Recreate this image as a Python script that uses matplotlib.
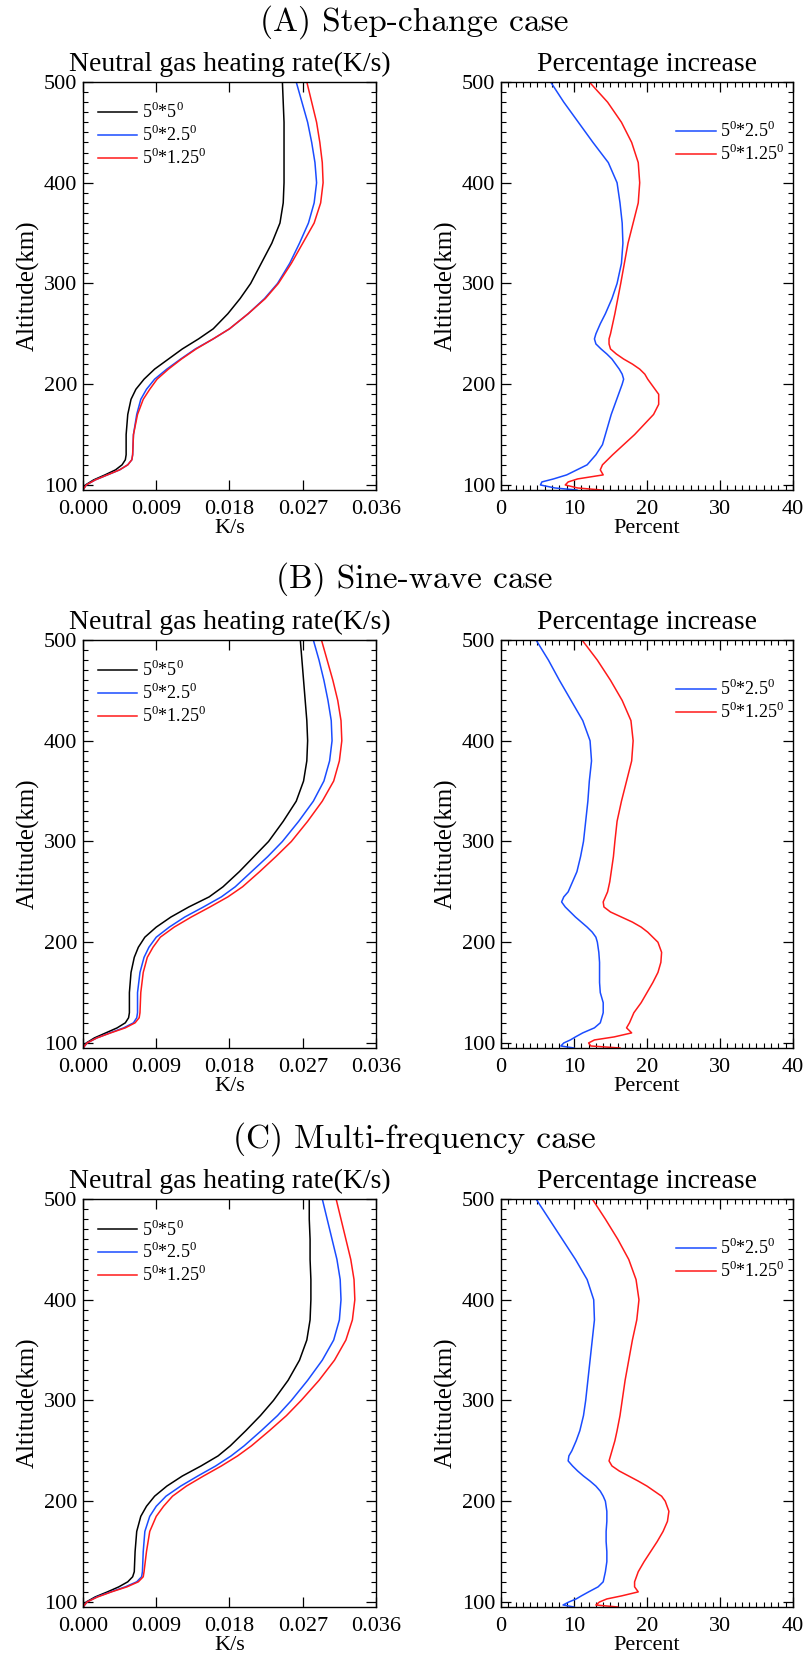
import numpy as np
import matplotlib
matplotlib.use("Agg")
import matplotlib.pyplot as plt
from matplotlib.ticker import MultipleLocator, FixedLocator

plt.rcParams['font.family'] = ['Liberation Serif', 'DejaVu Serif']
plt.rcParams['mathtext.fontset'] = 'custom'
plt.rcParams['mathtext.rm'] = 'Liberation Serif'

# altitude grids (km)
alt_L = [95, 100, 105, 110, 115, 120, 125, 130, 150, 170, 185, 195, 205, 215, 225,
         235, 245, 255, 270, 285, 300, 320, 340, 360, 380, 400, 420, 440, 460, 480, 500]
alt_R = [95, 97, 100, 103, 106, 110, 115, 120, 130, 140, 150, 160, 170, 180, 190, 200,
         205, 210, 215, 220, 225, 230, 235, 240, 245, 250, 260, 270, 285, 300, 320, 340,
         360, 380, 400, 420, 440, 460, 480, 500]

# neutral gas heating rate (K/s)
heat_A_5 = [0.0, 0.0003, 0.0013, 0.0027, 0.0040, 0.0048, 0.0052, 0.0053, 0.0053, 0.0055, 0.0059,
            0.0065, 0.0075, 0.0088, 0.0105, 0.0122, 0.0142, 0.0160, 0.0178, 0.0193, 0.0206,
            0.0219, 0.0232, 0.0242, 0.0246, 0.0247, 0.0247, 0.0247, 0.0247, 0.0246, 0.0245]
heat_A_25 = [0.0, 0.0004, 0.0015, 0.0030, 0.0045, 0.0055, 0.0060, 0.0061, 0.0062, 0.0066, 0.0071,
             0.0078, 0.0088, 0.0103, 0.0120, 0.0138, 0.0160, 0.0180, 0.0203, 0.0223, 0.0239,
             0.0254, 0.0266, 0.0277, 0.0284, 0.0287, 0.0285, 0.0281, 0.0276, 0.0269, 0.0262]
heat_A_125 = [0.0, 0.0004, 0.0015, 0.0030, 0.0045, 0.0055, 0.0060, 0.0061, 0.0062, 0.0067, 0.0074,
              0.0082, 0.0091, 0.0105, 0.0121, 0.0139, 0.0160, 0.0180, 0.0203, 0.0224, 0.0240,
              0.0256, 0.0270, 0.0284, 0.0292, 0.0295, 0.0294, 0.0291, 0.0287, 0.0281, 0.0275]

heat_B_5 = [0.0, 0.0004, 0.0014, 0.0028, 0.0042, 0.0052, 0.0056, 0.0057, 0.0057, 0.0059, 0.0063,
            0.0068, 0.0076, 0.0090, 0.0108, 0.0130, 0.0155, 0.0172, 0.0192, 0.0210, 0.0228,
            0.0246, 0.0262, 0.0271, 0.0275, 0.0276, 0.0275, 0.0273, 0.0271, 0.0269, 0.0267]
heat_B_25 = [0.0, 0.0005, 0.0017, 0.0033, 0.0050, 0.0062, 0.0066, 0.0067, 0.0067, 0.0070, 0.0075,
             0.0081, 0.0090, 0.0106, 0.0125, 0.0148, 0.0170, 0.0187, 0.0207, 0.0227, 0.0245,
             0.0265, 0.0283, 0.0296, 0.0303, 0.0306, 0.0305, 0.0301, 0.0296, 0.0290, 0.0283]
heat_B_125 = [0.0, 0.0005, 0.0017, 0.0034, 0.0052, 0.0064, 0.0069, 0.0070, 0.0071, 0.0074, 0.0079,
              0.0086, 0.0095, 0.0112, 0.0133, 0.0156, 0.0178, 0.0196, 0.0217, 0.0237, 0.0256,
              0.0276, 0.0294, 0.0308, 0.0315, 0.0318, 0.0317, 0.0313, 0.0307, 0.0300, 0.0293]

heat_C_5 = [0.0, 0.0004, 0.0015, 0.0030, 0.0044, 0.0055, 0.0061, 0.0063, 0.0064, 0.0066, 0.0071,
            0.0078, 0.0088, 0.0103, 0.0122, 0.0145, 0.0166, 0.0181, 0.0200, 0.0218, 0.0234,
            0.0252, 0.0266, 0.0275, 0.0279, 0.0280, 0.0280, 0.0279, 0.0279, 0.0278, 0.0278]
heat_C_25 = [0.0, 0.0005, 0.0017, 0.0034, 0.0052, 0.0066, 0.0072, 0.0073, 0.0074, 0.0076, 0.0082,
             0.0090, 0.0102, 0.0120, 0.0141, 0.0163, 0.0182, 0.0198, 0.0219, 0.0239, 0.0256,
             0.0276, 0.0294, 0.0308, 0.0315, 0.0317, 0.0316, 0.0312, 0.0306, 0.0300, 0.0294]
heat_C_125 = [0.0, 0.0005, 0.0018, 0.0035, 0.0054, 0.0068, 0.0074, 0.0075, 0.0078, 0.0082, 0.0090,
              0.0099, 0.0110, 0.0127, 0.0148, 0.0170, 0.0190, 0.0207, 0.0229, 0.0250, 0.0268,
              0.0290, 0.0309, 0.0323, 0.0331, 0.0334, 0.0333, 0.0329, 0.0323, 0.0317, 0.0311]

# percentage increase relative to 5x5
pct_A_25 = [10.4, 7.4, 5.4, 5.6, 7.2, 9.0, 10.4, 11.8, 13.0, 13.9, 14.3, 14.7, 15.1, 15.6, 16.1,
            16.6, 16.8, 16.6, 16.2, 15.7, 15.2, 14.5, 13.7, 13.0, 12.8, 13.0, 13.6, 14.3, 15.2,
            15.9, 16.5, 16.7, 16.6, 16.3, 15.9, 14.7, 12.6, 10.6, 8.6, 6.8]
pct_A_125 = [13.8, 10.5, 8.8, 9.2, 10.5, 14.0, 13.6, 13.9, 15.3, 16.8, 18.3, 19.6, 20.9, 21.6, 21.6,
             20.6, 20.1, 19.7, 19.0, 18.0, 16.8, 15.8, 15.0, 14.8, 14.8, 15.0, 15.3, 15.6, 16.0,
             16.4, 16.9, 17.4, 18.1, 18.8, 19.0, 18.8, 17.9, 16.5, 14.6, 12.1]

pct_B_25 = [10.0, 8.2, 8.6, 9.5, 10.2, 11.2, 12.8, 13.6, 14.0, 14.0, 13.6, 13.5, 13.5, 13.5, 13.4,
            13.2, 13.0, 12.5, 11.8, 11.0, 10.2, 9.5, 8.8, 8.3, 8.6, 9.2, 9.8, 10.4, 10.9, 11.3,
            11.6, 11.9, 12.1, 12.4, 12.2, 11.2, 9.6, 8.0, 6.5, 4.8]
pct_B_125 = [16.3, 12.3, 12.0, 12.8, 15.5, 17.9, 17.2, 17.6, 18.2, 19.2, 20.0, 20.8, 21.5, 21.9, 22.0,
             21.5, 20.8, 20.1, 19.2, 18.0, 16.5, 15.0, 14.1, 14.0, 14.3, 14.6, 14.9, 15.1, 15.4,
             15.6, 15.9, 16.5, 17.2, 17.9, 18.1, 17.8, 16.6, 15.0, 13.2, 11.1]

pct_C_25 = [10.0, 8.5, 9.3, 10.3, 11.0, 12.0, 13.3, 14.0, 14.3, 14.5, 14.5, 14.4, 14.4, 14.5, 14.5,
            14.3, 14.0, 13.6, 13.0, 12.2, 11.3, 10.5, 9.8, 9.2, 9.3, 9.7, 10.3, 10.8, 11.3, 11.6,
            11.9, 12.2, 12.5, 12.8, 12.7, 11.8, 10.2, 8.4, 6.6, 4.8]
pct_C_125 = [16.0, 13.0, 13.5, 14.5, 16.5, 18.8, 18.3, 18.3, 18.8, 19.6, 20.5, 21.4, 22.2, 22.8, 23.0,
             22.5, 22.0, 21.0, 20.0, 18.8, 17.5, 16.2, 15.2, 14.8, 15.0, 15.2, 15.6, 15.9, 16.3,
             16.6, 17.0, 17.5, 18.0, 18.6, 18.9, 18.5, 17.5, 16.0, 14.3, 12.5]

cases = ["(A) Step-change case", "(B) Sine-wave case", "(C) Multi-frequency case"]
heat = [(heat_A_5, heat_A_25, heat_A_125),
        (heat_B_5, heat_B_25, heat_B_125),
        (heat_C_5, heat_C_25, heat_C_125)]
pct = [(pct_A_25, pct_A_125), (pct_B_25, pct_B_125), (pct_C_25, pct_C_125)]

labels = [r'5$^\mathregular{0}$*5$^\mathregular{0}$',
          r'5$^\mathregular{0}$*2.5$^\mathregular{0}$',
          r'5$^\mathregular{0}$*1.25$^\mathregular{0}$']
colors = ['black', '#1a4cff', '#ff1a1a']

W, H = 804, 1666
fig = plt.figure(figsize=(W / 100, H / 100), dpi=100)

row_top = [82, 640, 1199]
case_y = [22, 579, 1139]
panel_h = 408


def style(ax):
    for s in ax.spines.values():
        s.set_linewidth(1.0)
    ax.tick_params(which='both', direction='in', top=True, right=True, labelsize=16)
    ax.tick_params(which='major', length=7, width=0.9, pad=7)
    ax.tick_params(which='minor', length=3.5, width=0.8)
    ax.tick_params(axis='y', which='major', pad=4)


leg_kw = dict(loc='upper left', frameon=False, fontsize=13, handlelength=2.2,
              handletextpad=0.25, labelspacing=0.16, borderpad=0, borderaxespad=0)

for i in range(3):
    bottom = 1 - (row_top[i] + panel_h) / H
    height = panel_h / H

    axl = fig.add_axes([83 / W, bottom, 293 / W, height])
    for vals, lab, c in zip(heat[i], labels, colors):
        axl.plot(vals, alt_L, color=c, lw=1.1, label=lab)
    axl.set_xlim(0, 0.036)
    axl.set_ylim(95, 500)
    axl.xaxis.set_major_locator(FixedLocator([0, 0.009, 0.018, 0.027, 0.036]))
    axl.xaxis.set_major_formatter(matplotlib.ticker.FormatStrFormatter('%.3f'))
    axl.yaxis.set_major_locator(MultipleLocator(100))
    axl.yaxis.set_minor_locator(MultipleLocator(10))
    style(axl)
    axl.set_title("Neutral gas heating rate(K/s)", fontsize=20, pad=8)
    axl.set_xlabel("K/s", fontsize=16, labelpad=0)
    axl.set_ylabel("Altitude(km)", fontsize=18, labelpad=3)
    axl.legend(bbox_to_anchor=(0.05, 0.95), **leg_kw)

    axr = fig.add_axes([501 / W, bottom, 292 / W, height])
    axr.plot(pct[i][0], alt_R, color=colors[1], lw=1.1, label=labels[1])
    axr.plot(pct[i][1], alt_R, color=colors[2], lw=1.1, label=labels[2])
    axr.set_xlim(0, 40)
    axr.set_ylim(95, 500)
    axr.xaxis.set_major_locator(MultipleLocator(10))
    axr.xaxis.set_minor_locator(MultipleLocator(1))
    axr.yaxis.set_major_locator(MultipleLocator(100))
    axr.yaxis.set_minor_locator(MultipleLocator(10))
    style(axr)
    axr.set_title("Percentage increase", fontsize=20, pad=8)
    axr.set_xlabel("Percent", fontsize=16, labelpad=0)
    axr.set_ylabel("Altitude(km)", fontsize=18, labelpad=3)
    axr.legend(bbox_to_anchor=(0.6, 0.905), **leg_kw)

    fig.text(0.515, 1 - case_y[i] / H, cases[i], family='cmr10', fontsize=24,
             ha='center', va='center')

fig.savefig("out.png", dpi=100)
